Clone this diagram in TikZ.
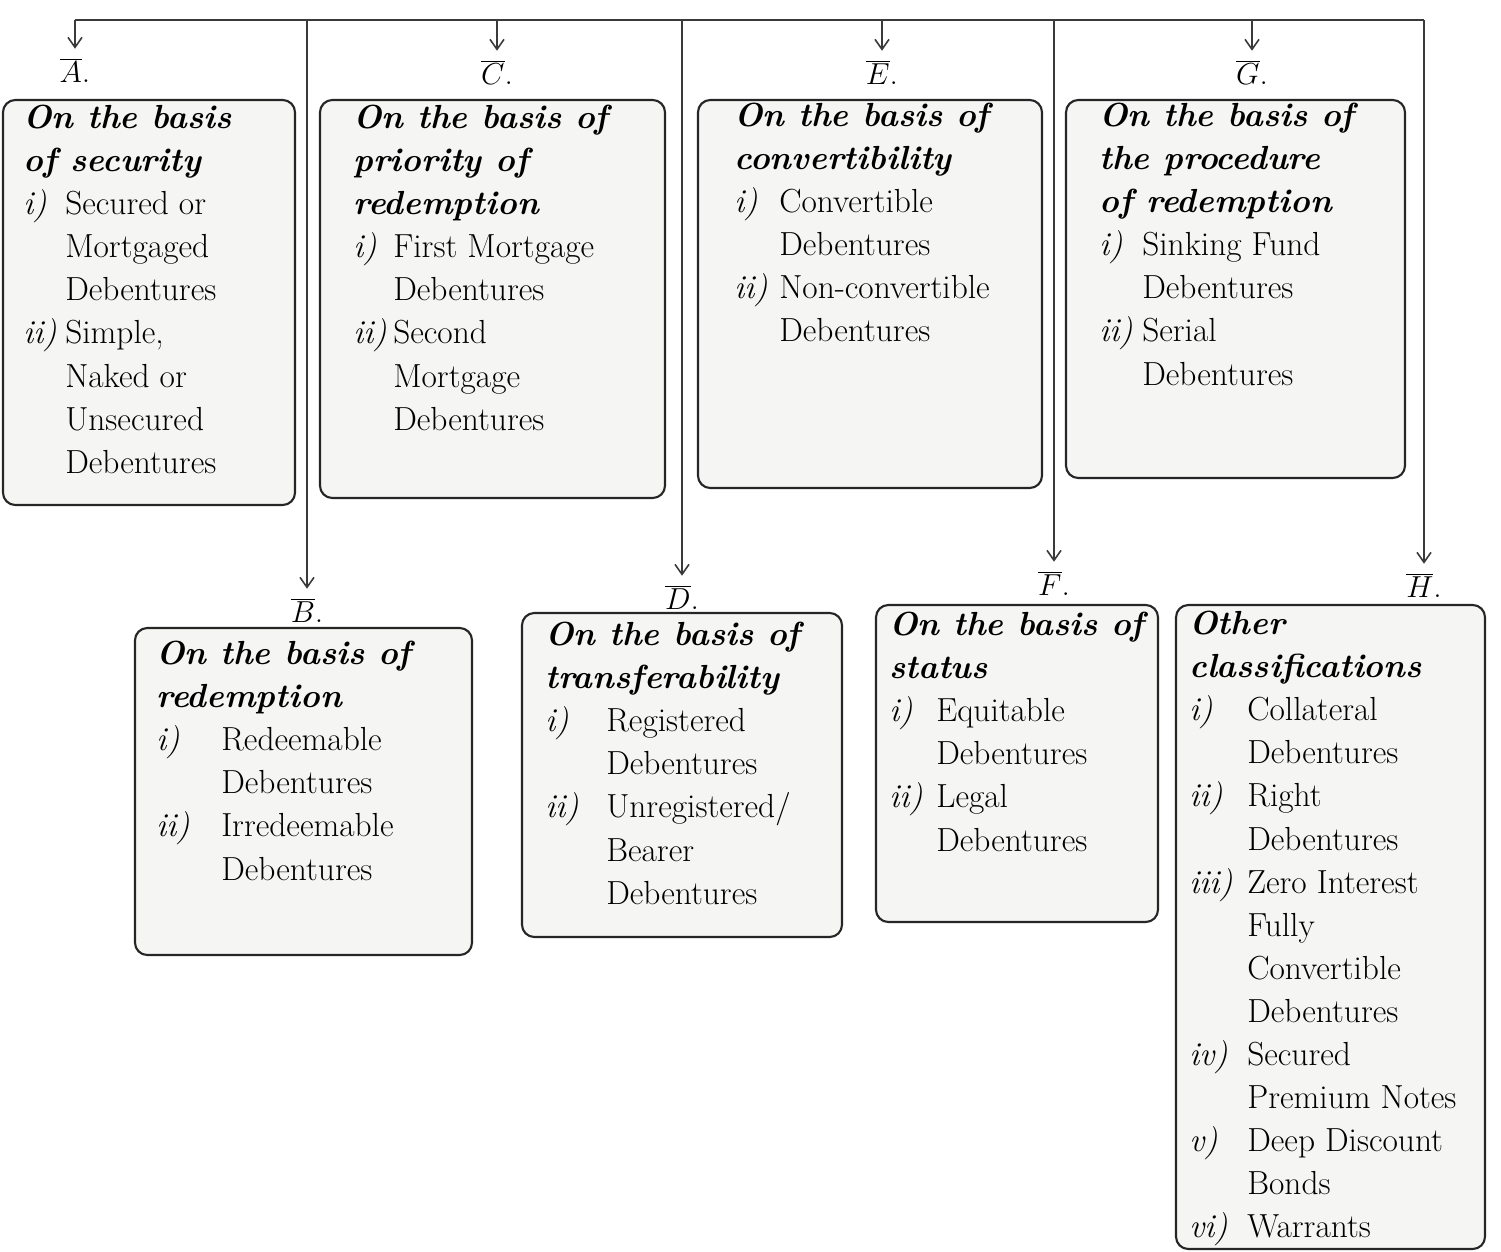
\documentclass[tikz,border=0pt]{standalone}
\usepackage{tikz}
\usetikzlibrary{arrows.meta,positioning,fit}
\definecolor{inkgray}{HTML}{3A3A3A}
\definecolor{paper}{HTML}{F5F5F3}
\newlength\itmw
\newcommand\itm[1]{\makebox[\itmw][l]{\textit{#1}}}
\newcommand\cont{\hspace*{\itmw}}
\newcommand\hd[1]{{\bfseries\itshape #1}}
\tikzset{
  >={Straight Barb[length=2mm,width=2.8mm]},
  % leitungen
  wire/.style={draw=inkgray,line width=0.9pt},
  arr/.style={->,draw=inkgray,line width=0.9pt,shorten >=4pt},
  lbl/.style={font=\fontsize{19}{24.5}\selectfont,inner sep=1pt,text=black},
  % kaesten
  panel/.style={draw=black!85,line width=1.2pt,fill=paper,rounded corners=7pt,inner sep=0pt},
  ptext/.style={anchor=north west,align=left,inner sep=0pt,text=black,
     font=\fontsize{19}{24.5}\selectfont,
     execute at begin node={\setlength{\itmw}{#1}}},
}
\begin{document}
\begin{tikzpicture}[x=0.02cm,y=-0.02cm]
  \path[fill=white,use as bounding box] (0,0) rectangle (1501,1251);

  % obere reihe
  \node[panel,fit={(3,100) (295,505)}] (bA) {};
  \node[ptext=0.84cm] (tA) at ([shift={(21,6)}]bA.north west)
    {\hd{On the basis}\\ \hd{of security}\\
     \itm{i)}Secured or\\ \cont Mortgaged\\ \cont Debentures\\
     \itm{ii)}Simple,\\ \cont Naked or\\ \cont Unsecured\\ \cont Debentures};
  \node[panel,fit={(320,100) (665,498)}] (bC) {};
  \node[ptext=0.8cm] (tC) at ([shift={(34,6)}]bC.north west)
    {\hd{On the basis of}\\ \hd{priority of}\\ \hd{redemption}\\
     \itm{i)}First Mortgage\\ \cont Debentures\\
     \itm{ii)}Second\\ \cont Mortgage\\ \cont Debentures};
  \node[panel,fit={(698,100) (1042,488)}] (bE) {};
  \node[ptext=0.9cm] (tE) at ([shift={(37,4)}]bE.north west)
    {\hd{On the basis of}\\ \hd{convertibility}\\
     \itm{i)}Convertible\\ \cont Debentures\\
     \itm{ii)}Non-convertible\\ \cont Debentures};
  \node[panel,fit={(1066,100) (1405,478)}] (bG) {};
  \node[ptext=0.86cm] (tG) at ([shift={(34,4)}]bG.north west)
    {\hd{On the basis of}\\ \hd{the procedure}\\ \hd{of redemption}\\
     \itm{i)}Sinking Fund\\ \cont Debentures\\
     \itm{ii)}Serial\\ \cont Debentures};

  % untere reihe
  \node[panel,fit={(135,628) (472,955)}] (bB) {};
  \node[ptext=1.3cm] (tB) at ([shift={(22,14)}]bB.north west)
    {\hd{On the basis of}\\ \hd{redemption}\\
     \itm{i)}Redeemable\\ \cont Debentures\\
     \itm{ii)}Irredeemable\\ \cont Debentures};
  \node[panel,fit={(522,613) (842,937)}] (bD) {};
  \node[ptext=1.22cm] (tD) at ([shift={(24,10)}]bD.north west)
    {\hd{On the basis of}\\ \hd{transferability}\\
     \itm{i)}Registered\\ \cont Debentures\\
     \itm{ii)}Unregistered/\\ \cont Bearer\\ \cont Debentures};
  \node[panel,fit={(876,605) (1158,922)}] (bF) {};
  \node[ptext=0.94cm] (tF) at ([shift={(14,8)}]bF.north west)
    {\hd{On the basis of}\\ \hd{status}\\
     \itm{i)}Equitable\\ \cont Debentures\\
     \itm{ii)}Legal\\ \cont Debentures};
  \node[panel,fit={(1176,605) (1485,1249)}] (bH) {};
  \node[ptext=1.16cm] (tH) at ([shift={(14,7)}]bH.north west)
    {\hd{Other}\\ \hd{classifications}\\
     \itm{i)}Collateral\\ \cont Debentures\\
     \itm{ii)}Right\\ \cont Debentures\\
     \itm{iii)}Zero Interest\\ \cont Fully\\ \cont Convertible\\ \cont Debentures\\
     \itm{iv)}Secured\\ \cont Premium Notes\\
     \itm{v)}Deep Discount\\ \cont Bonds\\
     \itm{vi)}Warrants};

  % marken
  \node[lbl] (lA) at (75,70) {\(\overline{A}\).};
  \node[lbl] (lC) at (497,72) {\(\overline{C}\).};
  \node[lbl] (lE) at (882,72) {\(\overline{E}\).};
  \node[lbl] (lG) at (1252,72) {\(\overline{G}\).};
  \node[lbl] (lB) at (307,610) {\(\overline{B}\).};
  \node[lbl] (lD) at (682,597) {\(\overline{D}\).};
  \node[lbl] (lF) at (1054,583) {\(\overline{F}\).};
  \node[lbl] (lH) at (1424,585) {\(\overline{H}\).};

  \coordinate (top) at (0,20);
  \draw[wire] (lA |- top) -- (lH |- top);
  \foreach \n in {A,B,C,D,E,F,G,H}
    \draw[arr] (l\n |- top) -- (l\n.north);
\end{tikzpicture}
\end{document}
